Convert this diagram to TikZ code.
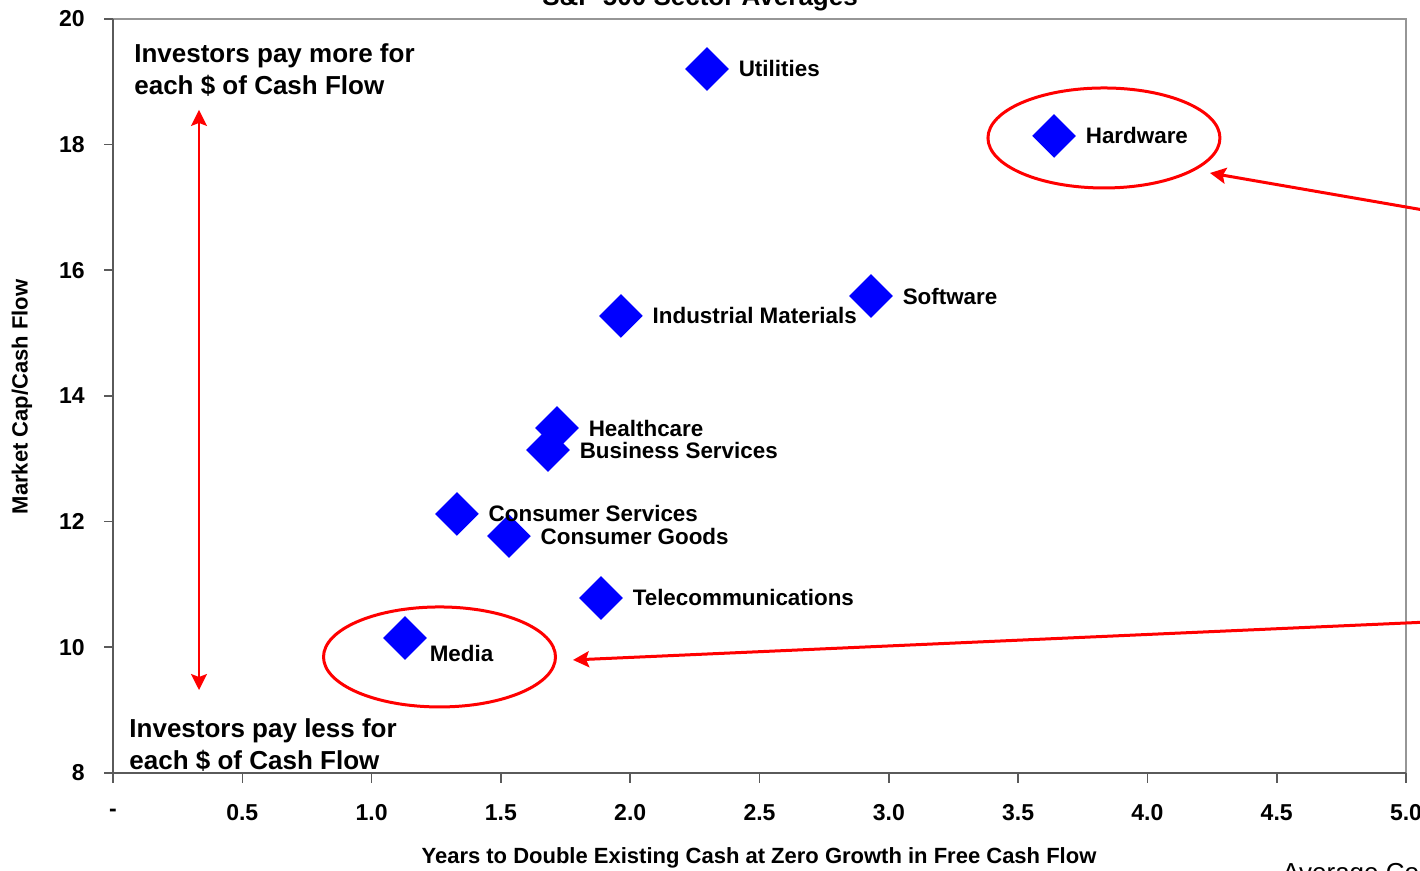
\documentclass[tikz,border=0pt]{standalone}
\usepackage{fontspec}
\setmainfont{Liberation Sans}
\usetikzlibrary{arrows.meta,positioning,shapes.geometric}
\definecolor{ink}{HTML}{000000}
\definecolor{markblue}{HTML}{0000FF}
\definecolor{callred}{HTML}{FF0000}
\definecolor{axisgray}{HTML}{5A5A5A}
\definecolor{framegray}{HTML}{969696}
\tikzset{
  gem/.style={shape=diamond, fill=markblue, inner sep=0pt, minimum width=22pt, minimum height=22pt},
  tag/.style={font=\bfseries\fontsize{11.2}{13}\selectfont, text=ink, anchor=west, inner sep=0pt},
  num/.style={font=\bfseries\fontsize{11.5}{13}\selectfont, text=ink, inner sep=0pt},
  note/.style={font=\bfseries\fontsize{13}{16}\selectfont, text=ink, align=left, anchor=west, inner sep=0pt},
  axtitle/.style={font=\bfseries\fontsize{11}{13}\selectfont, text=ink, inner sep=0pt},
  ring/.style={shape=ellipse, draw=callred, line width=1.5pt, minimum width=116pt, minimum height=50pt, inner sep=0pt},
  callout/.style={-{Stealth[length=8pt,width=8pt,inset=1.5pt]}, line width=1.5pt, draw=callred},
  spanarrow/.style={{Stealth[length=8pt,width=8pt,inset=1.5pt]}-{Stealth[length=8pt,width=8pt,inset=1.5pt]}, line width=1pt, draw=callred},
  axisline/.style={draw=axisgray, line width=0.8pt},
  plotframe/.style={draw=framegray, line width=1pt}
}

\begin{document}
\begin{tikzpicture}[x=129.3pt, y=31.415pt]
\useasboundingbox (-0.43697,6.4396) rectangle (5.05413,20.3024);
\clip (-0.43697,6.4396) rectangle (5.05413,20.3024);
\fill[white] (-0.43697,6.4396) rectangle (5.05413,20.3024);
% plot area and axes
\draw[plotframe] (0,20) -- (5,20) -- (5,8);
\draw[axisline] (0,20) -- (0,8) -- (5,8);
\foreach \v in {8,10,...,20} {
  \draw[axisline] (0,\v) -- ++(-4.5pt,0);
  \node[num, anchor=east] (yt\v) at (-0.108,\v) {\v};
}
\foreach \u/\t [count=\k] in {0/-,0.5/0.5,1/1.0,1.5/1.5,2/2.0,2.5/2.5,3/3.0,3.5/3.5,4/4.0,4.5/4.5,5/5.0} {
  \draw[axisline] (\u,8) -- ++(0,-5pt);
  \node[num] (xt\k) at (\u,7.363) {\t};
}
\node[axtitle, rotate=90] (ytitle) at (-0.352,13.984) {Market Cap/Cash Flow};
\node[axtitle] (xtitle) at (2.498,6.647) {Years to Double Existing Cash at Zero Growth in Free Cash Flow};
\node[font=\bfseries\fontsize{13}{16}\selectfont, anchor=base] (title) at (2.270,20.207) {S\&P 500 Sector Averages};
\node[font=\fontsize{13}{16}\selectfont, anchor=base west, inner sep=0pt] (avg) at (4.520,6.271) {Average Co};
% sectors
\foreach \x/\y/\nm in {2.297/19.204/util, 3.639/18.138/hard, 2.931/15.591/soft, 1.964/15.273/indm, 1.682/13.140/busi, 1.717/13.490/heal, 1.330/12.122/cons, 1.531/11.771/cong, 1.887/10.785/tele, 1.129/10.148/media}
  \node[gem] (\nm) at (\x,\y) {};
\foreach \nm/\txt in {util/Utilities, hard/Hardware, soft/Software, indm/Industrial Materials, heal/Healthcare, busi/Business Services, cons/Consumer Services, cong/Consumer Goods, tele/Telecommunications}
  \node[tag] (\nm-l) at ([xshift=4.5pt]\nm.east) {\txt};
\node[tag] (media-l) at ([xshift=1pt,yshift=-8pt]media.east) {Media};
% notes
\node[note] (more) at (0.081,19.188) {Investors pay more for\\each \$ of Cash Flow};
\node[note] (less) at (0.062,8.445) {Investors pay less for\\each \$ of Cash Flow};
\coordinate (hi) at (0.3326,18.552);
\coordinate (lo) at (0.3326,9.320);
\draw[spanarrow] (lo) -- (hi);
% callouts
\node[ring] (hwring) at (3.832,18.106) {};
\node[ring] (mdring) at (1.2626,9.846) {};
\coordinate (hwsrc) at (5.364,16.748);
\coordinate (hwtip) at (4.242,17.549);
\coordinate (mdsrc) at (5.364,10.453);
\coordinate (mdtip) at ([xshift=8pt,yshift=-1.5pt]mdring.east);
\draw[callout] (hwsrc) -- (hwtip);
\draw[callout] (mdsrc) -- (mdtip);
\end{tikzpicture}
\end{document}
